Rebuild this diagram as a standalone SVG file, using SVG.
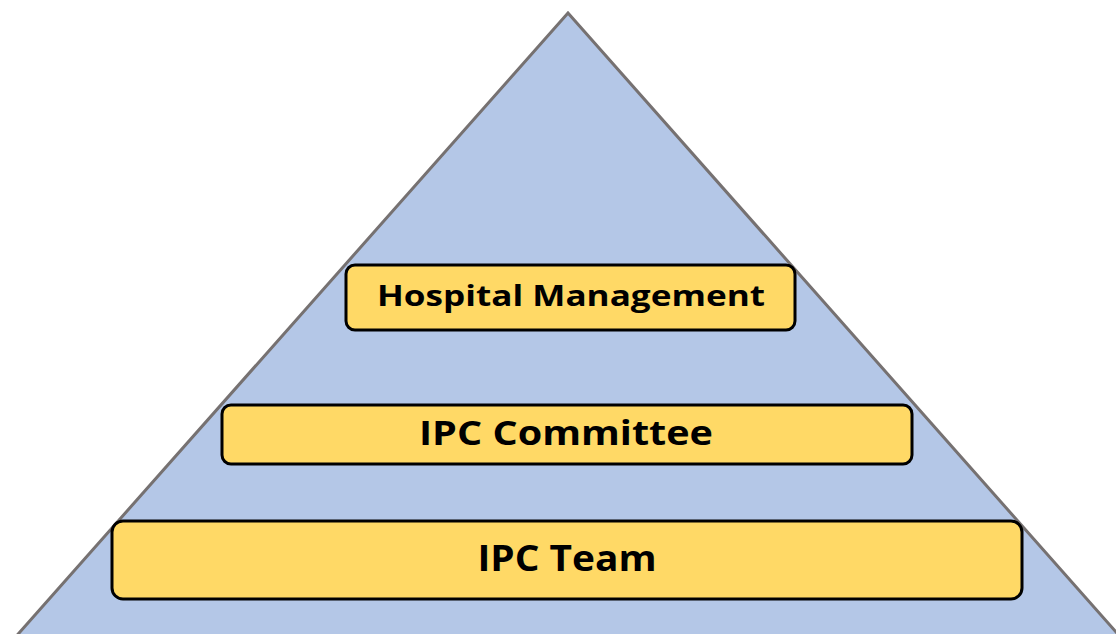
<svg xmlns="http://www.w3.org/2000/svg" width="1116" height="634" viewBox="0 0 1116 634">
<style>
.box{fill:#FFD966;stroke:#000;stroke-width:3}
.lbl{font-family:"Open Sans","Liberation Sans",sans-serif;font-weight:bold;fill:#000;text-anchor:middle}
</style>
<rect x="0" y="0" width="1116" height="634" fill="#fff"/>
<g id="pyramid">
<polygon points="568,13 4,650 1132,650" fill="#B4C7E7" stroke="#767171" stroke-width="3" stroke-linejoin="miter"/>
</g>
<g id="hospital-management">
<rect class="box" x="346" y="265" width="449" height="65" rx="9"/>
<text class="lbl" x="571" y="306" font-size="28" textLength="388" lengthAdjust="spacingAndGlyphs">Hospital Management</text>
</g>
<g id="ipc-committee">
<rect class="box" x="222" y="405" width="690" height="59" rx="9"/>
<text class="lbl" x="566" y="445" font-size="34" textLength="294" lengthAdjust="spacingAndGlyphs">IPC Committee</text>
</g>
<g id="ipc-team">
<rect class="box" x="112" y="521" width="910" height="78" rx="11"/>
<text class="lbl" x="567" y="571" font-size="36" textLength="179" lengthAdjust="spacingAndGlyphs">IPC Team</text>
</g>
<g id="connectors"></g>
</svg>
